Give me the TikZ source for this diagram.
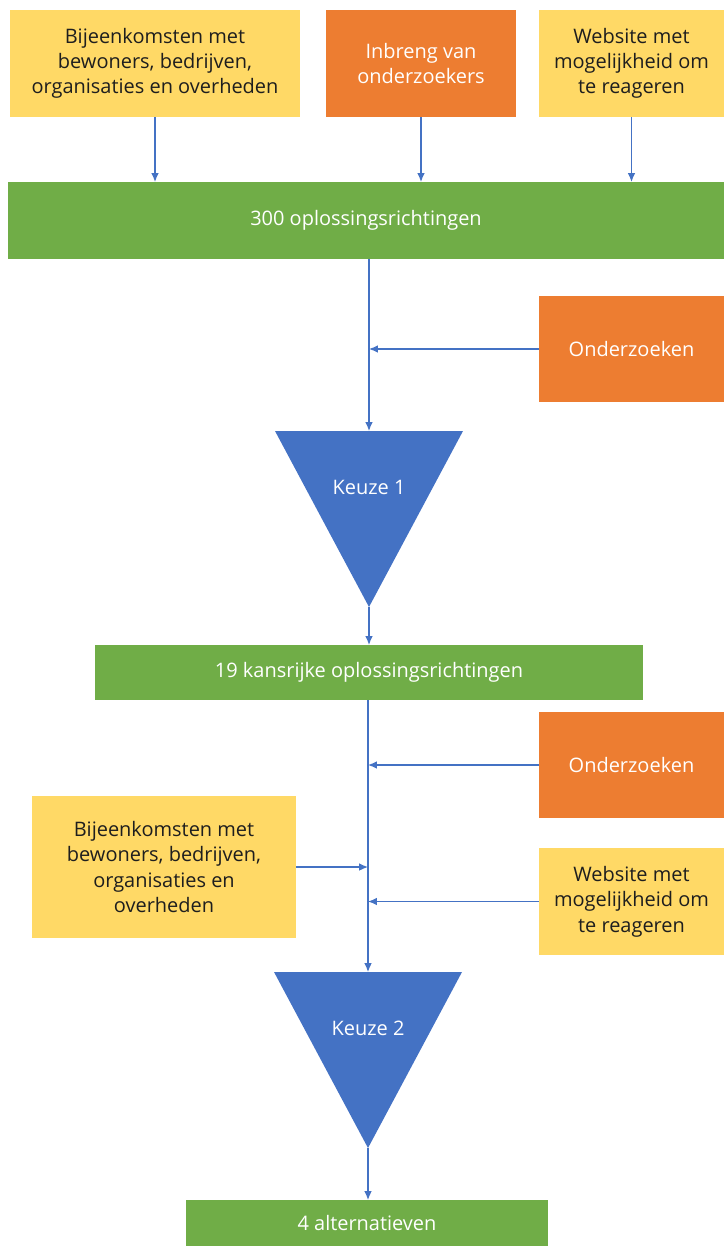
\documentclass[tikz,border=0pt]{standalone}
\usepackage{fontspec}
\setmainfont{Open Sans}
\usetikzlibrary{calc,arrows.meta}
\tikzset{>={Latex[length=2.2mm,width=1.9mm]}}
\definecolor{myyellow1}{RGB}{255, 217, 102}
\definecolor{myorange1}{RGB}{237, 125, 49}
\definecolor{mygreen1}{RGB}{112, 173, 71}
\definecolor{myblue1}{RGB}{68, 114, 196}
\definecolor{mytext1}{RGB}{30, 30, 30}
\tikzset{
  box/.style = {inner sep = 0pt, outer sep = 0pt, align = center, font = \fontsize{14.2}{18}\selectfont},
  yellowbox/.style = {box, fill = myyellow1, text = mytext1},
  orangebox/.style = {box, fill = myorange1, text = white},
  greenbar/.style = {box, fill = mygreen1, text = white},
  flow/.style = {->, color = myblue1, line width = 0.9pt}
}
\begin{document}
\begin{tikzpicture}[x = 0.025cm, y = -0.025cm]

\useasboundingbox (0,0) rectangle (724,1246);

\node[yellowbox, minimum width = 7.25cm, minimum height = 2.675cm] (bij1) at (155,63.5) {Bijeenkomsten met\\ bewoners, bedrijven,\\ organisaties en overheden};
\node[orangebox, minimum width = 4.75cm, minimum height = 2.675cm] (inb) at (421,63.5) {Inbreng van\\ onderzoekers};
\node[yellowbox, minimum width = 4.625cm, minimum height = 2.675cm] (web1) at (631.5,63.5) {Website met\\ mogelijkheid om\\ te reageren};
\node[greenbar, minimum width = 17.9cm, minimum height = 1.925cm] (opl300) at (366,220.5) {300 oplossingsrichtingen};

\node[orangebox, minimum width = 4.625cm, minimum height = 2.65cm] (ond1) at (631.5,349) {Onderzoeken};

\fill[myblue1] (275,431) -- (463,431) -- (369,607) -- cycle;
\coordinate (k1top) at (369,431);
\coordinate (k1apex) at (369,607);
\node[box, text = white] (k1) at (369,487) {Keuze 1};

\node[greenbar, minimum width = 13.7cm, minimum height = 1.375cm] (kans19) at (369,672.5) {19 kansrijke oplossingsrichtingen};

\node[orangebox, minimum width = 4.625cm, minimum height = 2.65cm] (ond2) at (631.5,765) {Onderzoeken};
\node[yellowbox, minimum width = 6.6cm, minimum height = 3.55cm] (bij2) at (164,867) {Bijeenkomsten met\\ bewoners, bedrijven,\\ organisaties en\\ overheden};
\node[yellowbox, minimum width = 4.625cm, minimum height = 2.675cm] (web2) at (631.5,901.5) {Website met\\ mogelijkheid om\\ te reageren};

\fill[myblue1] (274,972) -- (462,972) -- (368,1148) -- cycle;
\coordinate (k2top) at (368,972);
\coordinate (k2apex) at (368,1148);
\node[box, text = white] (k2) at (368,1028) {Keuze 2};

\node[greenbar, minimum width = 9.05cm, minimum height = 1.15cm] (alt4) at (367,1223) {4 alternatieven};

\draw[flow] (bij1.south) -- (bij1.south |- opl300.north);
\draw[flow] (inb.south) -- (inb.south |- opl300.north);
\draw[flow] (web1.south) -- (web1.south |- opl300.north);
\draw[flow] (opl300.south -| k1top) -- (k1top);
\draw[flow] (ond1.west) -- (ond1.west -| k1top);
\draw[flow] (k1apex) -- (k1apex |- kans19.north);
\draw[flow] (kans19.south -| k2top) -- (k2top);
\draw[flow] (ond2.west) -- (ond2.west -| k2top);
\draw[flow] (bij2.east) -- (bij2.east -| k2top);
\draw[flow] (web2.west) -- (web2.west -| k2top);
\draw[flow] (k2apex) -- (k2apex |- alt4.north);

\end{tikzpicture}
\end{document}
